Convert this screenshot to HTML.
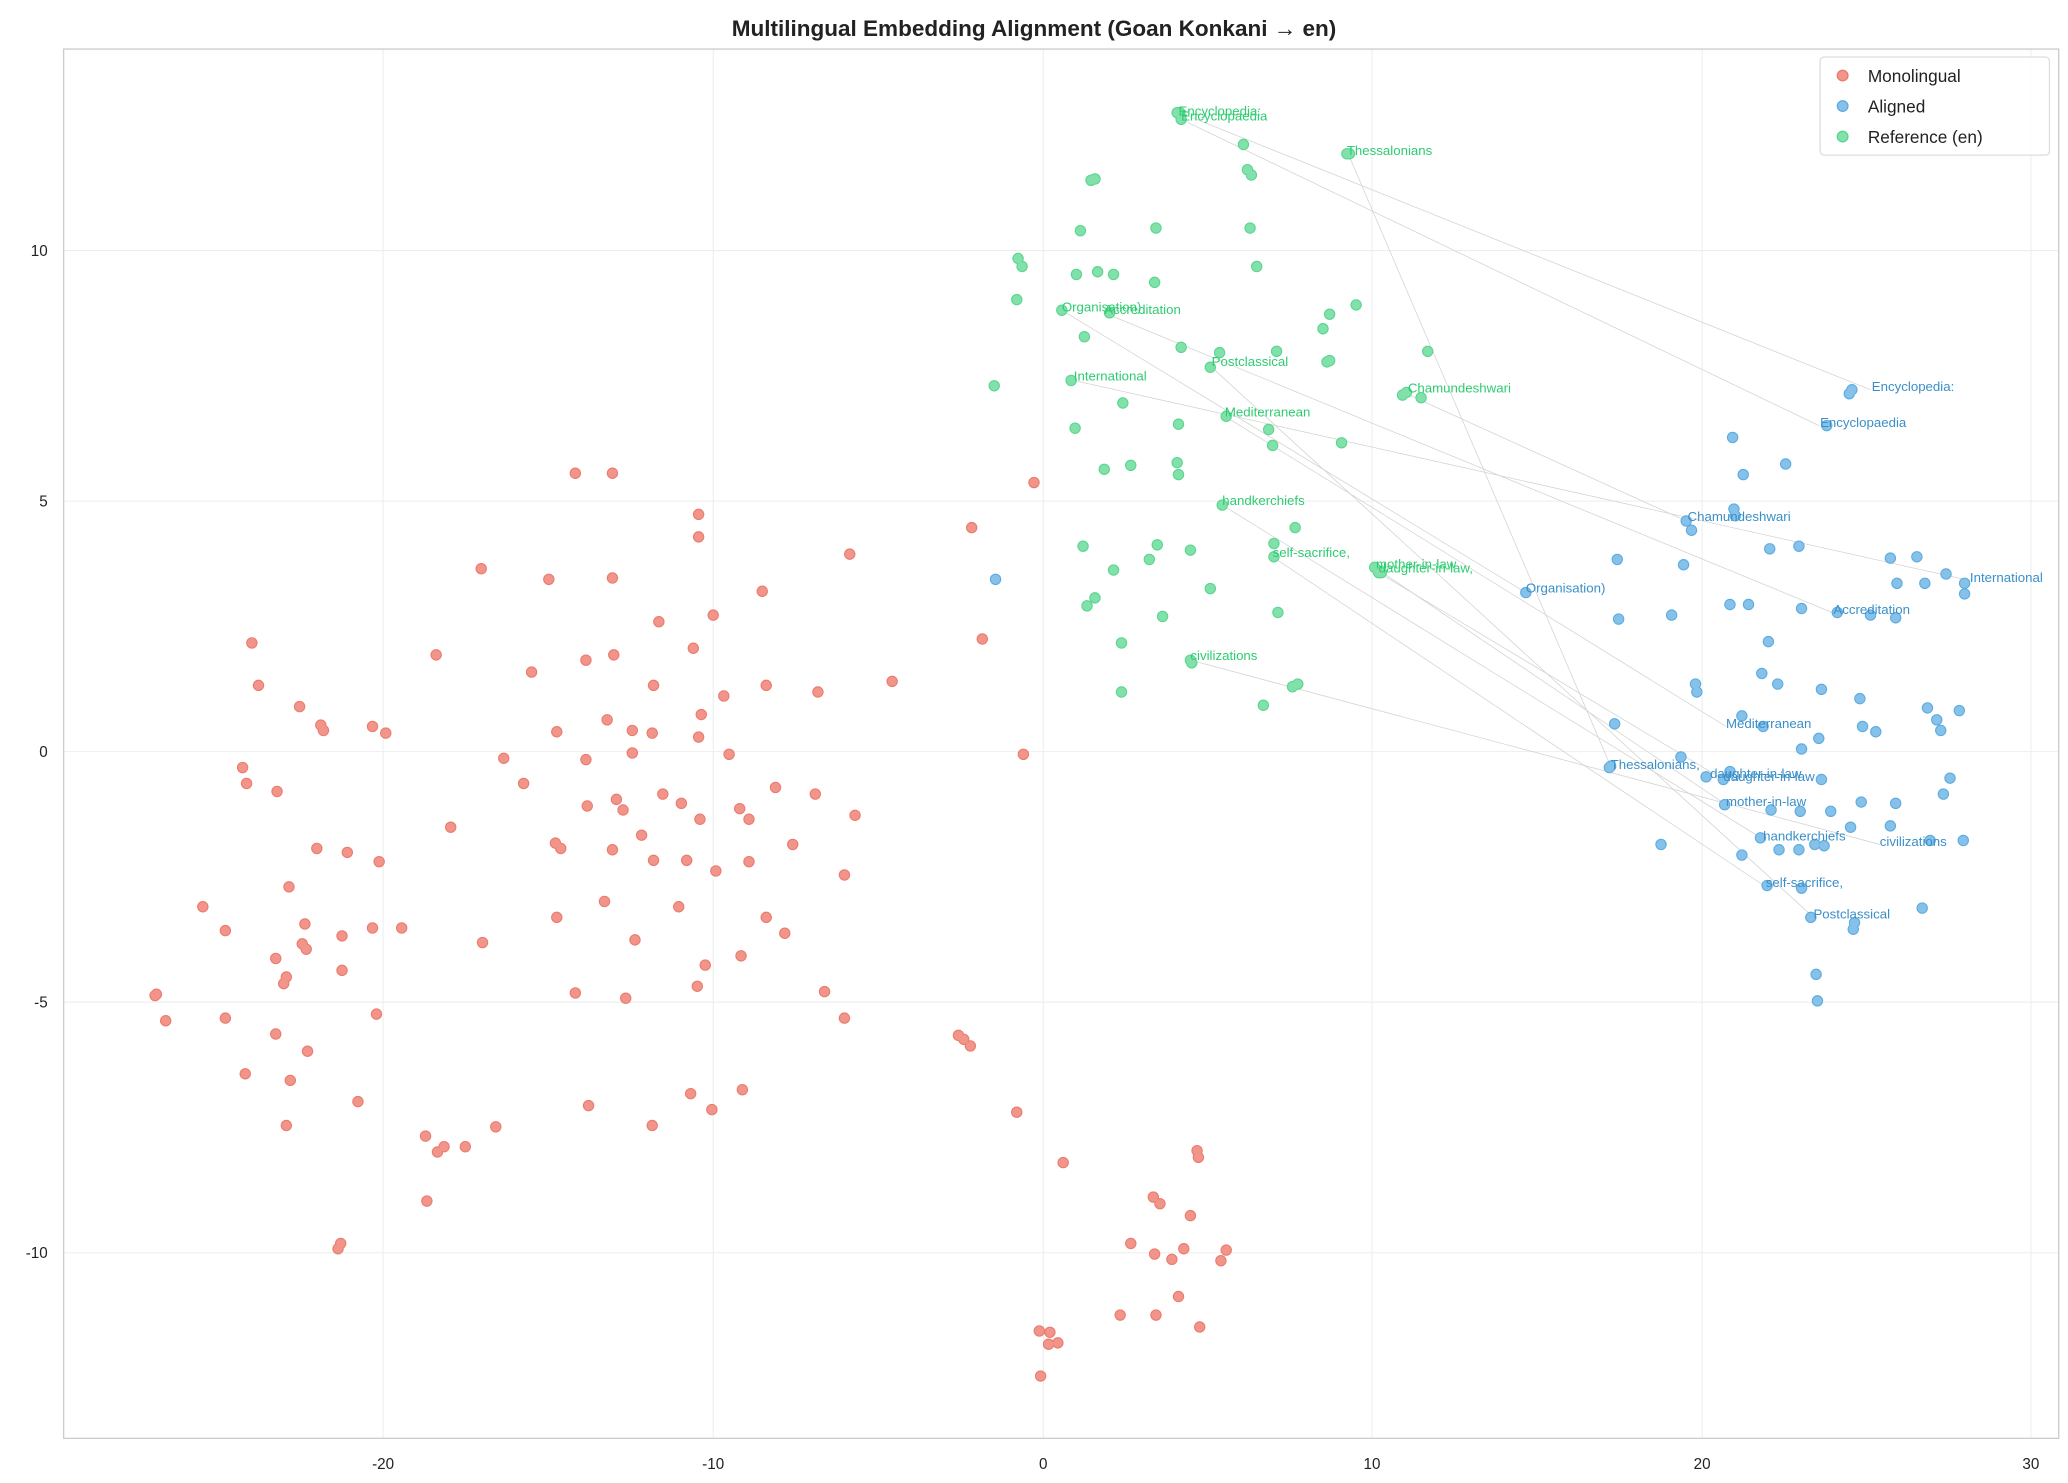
<!DOCTYPE html>
<html><head><meta charset="utf-8"><style>
html,body{margin:0;padding:0;background:#fff}
svg{display:block}
text{font-family:"Liberation Sans","DejaVu Sans",sans-serif}
</style></head><body>
<svg width="2068" height="1483" viewBox="0 0 1560 1118.7" xmlns="http://www.w3.org/2000/svg">
<rect x="0" y="0" width="1560" height="1118.7" fill="#fff"/>
<g stroke="#eeeeee" stroke-width="0.8">
<line x1="289" y1="37" x2="289" y2="1085"/><line x1="538" y1="37" x2="538" y2="1085"/><line x1="787" y1="37" x2="787" y2="1085"/><line x1="1035" y1="37" x2="1035" y2="1085"/><line x1="1284" y1="37" x2="1284" y2="1085"/><line x1="1532" y1="37" x2="1532" y2="1085"/>
<line x1="48" y1="189" x2="1553" y2="189"/><line x1="48" y1="378" x2="1553" y2="378"/><line x1="48" y1="567" x2="1553" y2="567"/><line x1="48" y1="756" x2="1553" y2="756"/><line x1="48" y1="945" x2="1553" y2="945"/>
</g>
<rect x="48" y="37" width="1505" height="1048" fill="none" stroke="#cccccc" stroke-width="1"/>
<text x="780" y="27" text-anchor="middle" font-size="17" font-weight="bold" fill="#222">Multilingual Embedding Alignment (Goan Konkani → en)</text>
<g font-size="11.5" fill="#222" text-anchor="middle">
<text x="289" y="1108">-20</text><text x="538" y="1108">-10</text><text x="787" y="1108">0</text><text x="1035" y="1108">10</text><text x="1284" y="1108">20</text><text x="1532" y="1108">30</text>
</g>
<g font-size="11.5" fill="#222" text-anchor="end">
<text x="36" y="193">10</text><text x="36" y="382">5</text><text x="36" y="571">0</text><text x="36" y="760">-5</text><text x="36" y="949">-10</text>
</g>
<g stroke="#d4d4d4" stroke-width="0.6">
<line x1="890" y1="85" x2="1411" y2="294"/><line x1="891" y1="90" x2="1372" y2="321"/><line x1="1017" y1="116" x2="1215" y2="578"/><line x1="801" y1="234" x2="1151" y2="447"/><line x1="833" y1="236" x2="1382" y2="462"/><line x1="914" y1="277" x2="1368" y2="692"/><line x1="810" y1="287" x2="1486" y2="438"/><line x1="1061" y1="297" x2="1272" y2="393"/><line x1="924" y1="314" x2="1302" y2="548"/><line x1="922" y1="381" x2="1330" y2="633"/><line x1="960" y1="420" x2="1332" y2="669"/><line x1="1040" y1="430" x2="1302" y2="607"/><line x1="1040" y1="432" x2="1300" y2="588"/><line x1="898" y1="498" x2="1418" y2="637"/>
</g>
<g fill="none" stroke-linecap="round">
<path stroke="#ec7a6d" stroke-width="8.6" d="M118 750h0M117 751h0M125 770h0M153 684h0M170 702h0M170 768h0M185 810h0M190 485h0M195 517h0M183 579h0M186 591h0M209 597h0M208 723h0M208 780h0M214 742h0M216 737h0M218 669h0M219 815h0M216 849h0M226 533h0M228 712h0M230 697h0M231 716h0M232 793h0M239 640h0M242 547h0M244 551h0M255 942h0M257 938h0M258 706h0M258 732h0M262 643h0M270 831h0M281 548h0M286 650h0M281 700h0M284 765h0M291 553h0M303 700h0M321 857h0M322 906h0M329 494h0M330 869h0M335 865h0M340 624h0M351 865h0M363 429h0M364 711h0M374 850h0M380 572h0M395 591h0M401 507h0M414 437h0M419 636h0M420 552h0M420 692h0M423 640h0M434 357h0M434 749h0M442 573h0M442 498h0M444 834h0M443 608h0M456 680h0M458 543h0M462 357h0M462 436h0M462 641h0M463 494h0M465 603h0M470 611h0M472 753h0M477 568h0M477 551h0M479 709h0M484 630h0M492 849h0M493 649h0M493 517h0M492 553h0M497 469h0M500 599h0M512 684h0M514 606h0M518 649h0M521 825h0M523 489h0M526 744h0M527 388h0M527 405h0M527 556h0M528 618h0M529 539h0M532 728h0M537 837h0M538 464h0M540 657h0M546 525h0M550 569h0M558 610h0M559 721h0M560 822h0M565 618h0M565 650h0M575 446h0M578 517h0M578 692h0M585 594h0M592 704h0M598 637h0M615 599h0M617 522h0M622 748h0M637 660h0M637 768h0M641 418h0M645 615h0M673 514h0M723 781h0M727 784h0M732 789h0M733 398h0M741 482h0M767 839h0M772 569h0M780 364h0M784 1004h0M785 1038h0M791 1014h0M792 1005h0M798 1013h0M802 877h0M845 992h0M853 938h0M870 903h0M871 946h0M875 908h0M872 992h0M884 950h0M889 978h0M893 942h0M898 917h0M903 868h0M904 873h0M905 1001h0M921 951h0M925 943h0"/>
<path stroke="#f1948a" stroke-width="7" d="M118 750h0M117 751h0M125 770h0M153 684h0M170 702h0M170 768h0M185 810h0M190 485h0M195 517h0M183 579h0M186 591h0M209 597h0M208 723h0M208 780h0M214 742h0M216 737h0M218 669h0M219 815h0M216 849h0M226 533h0M228 712h0M230 697h0M231 716h0M232 793h0M239 640h0M242 547h0M244 551h0M255 942h0M257 938h0M258 706h0M258 732h0M262 643h0M270 831h0M281 548h0M286 650h0M281 700h0M284 765h0M291 553h0M303 700h0M321 857h0M322 906h0M329 494h0M330 869h0M335 865h0M340 624h0M351 865h0M363 429h0M364 711h0M374 850h0M380 572h0M395 591h0M401 507h0M414 437h0M419 636h0M420 552h0M420 692h0M423 640h0M434 357h0M434 749h0M442 573h0M442 498h0M444 834h0M443 608h0M456 680h0M458 543h0M462 357h0M462 436h0M462 641h0M463 494h0M465 603h0M470 611h0M472 753h0M477 568h0M477 551h0M479 709h0M484 630h0M492 849h0M493 649h0M493 517h0M492 553h0M497 469h0M500 599h0M512 684h0M514 606h0M518 649h0M521 825h0M523 489h0M526 744h0M527 388h0M527 405h0M527 556h0M528 618h0M529 539h0M532 728h0M537 837h0M538 464h0M540 657h0M546 525h0M550 569h0M558 610h0M559 721h0M560 822h0M565 618h0M565 650h0M575 446h0M578 517h0M578 692h0M585 594h0M592 704h0M598 637h0M615 599h0M617 522h0M622 748h0M637 660h0M637 768h0M641 418h0M645 615h0M673 514h0M723 781h0M727 784h0M732 789h0M733 398h0M741 482h0M767 839h0M772 569h0M780 364h0M784 1004h0M785 1038h0M791 1014h0M792 1005h0M798 1013h0M802 877h0M845 992h0M853 938h0M870 903h0M871 946h0M875 908h0M872 992h0M884 950h0M889 978h0M893 942h0M898 917h0M903 868h0M904 873h0M905 1001h0M921 951h0M925 943h0"/>
<path stroke="#5cabe0" stroke-width="8.6" d="M751 437h0M1151 447h0M1215 578h0M1214 579h0M1218 546h0M1220 422h0M1221 467h0M1253 637h0M1261 464h0M1268 571h0M1270 426h0M1272 393h0M1276 400h0M1279 516h0M1280 522h0M1287 586h0M1300 588h0M1301 607h0M1305 582h0M1305 456h0M1307 330h0M1308 384h0M1309 389h0M1314 540h0M1314 645h0M1315 358h0M1319 456h0M1328 632h0M1329 508h0M1330 548h0M1333 668h0M1334 484h0M1335 414h0M1336 611h0M1341 516h0M1342 641h0M1347 350h0M1357 412h0M1357 641h0M1358 612h0M1359 459h0M1359 565h0M1359 670h0M1366 692h0M1369 637h0M1370 735h0M1371 755h0M1372 557h0M1374 520h0M1374 588h0M1376 638h0M1378 321h0M1381 612h0M1386 462h0M1395 297h0M1396 624h0M1397 294h0M1398 701h0M1399 696h0M1403 527h0M1404 605h0M1405 548h0M1411 464h0M1415 552h0M1426 623h0M1426 421h0M1430 466h0M1430 606h0M1431 440h0M1446 420h0M1450 685h0M1452 440h0M1454 534h0M1456 634h0M1461 543h0M1464 551h0M1468 433h0M1471 587h0M1466 599h0M1478 536h0M1482 448h0M1482 440h0M1481 634h0"/>
<path stroke="#85c1e9" stroke-width="7" d="M751 437h0M1151 447h0M1215 578h0M1214 579h0M1218 546h0M1220 422h0M1221 467h0M1253 637h0M1261 464h0M1268 571h0M1270 426h0M1272 393h0M1276 400h0M1279 516h0M1280 522h0M1287 586h0M1300 588h0M1301 607h0M1305 582h0M1305 456h0M1307 330h0M1308 384h0M1309 389h0M1314 540h0M1314 645h0M1315 358h0M1319 456h0M1328 632h0M1329 508h0M1330 548h0M1333 668h0M1334 484h0M1335 414h0M1336 611h0M1341 516h0M1342 641h0M1347 350h0M1357 412h0M1357 641h0M1358 612h0M1359 459h0M1359 565h0M1359 670h0M1366 692h0M1369 637h0M1370 735h0M1371 755h0M1372 557h0M1374 520h0M1374 588h0M1376 638h0M1378 321h0M1381 612h0M1386 462h0M1395 297h0M1396 624h0M1397 294h0M1398 701h0M1399 696h0M1403 527h0M1404 605h0M1405 548h0M1411 464h0M1415 552h0M1426 623h0M1426 421h0M1430 466h0M1430 606h0M1431 440h0M1446 420h0M1450 685h0M1452 440h0M1454 534h0M1456 634h0M1461 543h0M1464 551h0M1468 433h0M1471 587h0M1466 599h0M1478 536h0M1482 448h0M1482 440h0M1481 634h0"/>
<path stroke="#58d68d" stroke-width="8.6" d="M750 291h0M767 226h0M768 195h0M771 201h0M801 234h0M808 287h0M811 323h0M815 174h0M812 207h0M817 412h0M818 254h0M820 457h0M826 135h0M823 136h0M826 451h0M828 205h0M833 354h0M837 236h0M840 207h0M840 430h0M846 485h0M846 522h0M847 304h0M853 351h0M867 422h0M871 213h0M872 172h0M873 411h0M877 465h0M888 349h0M889 358h0M889 320h0M890 85h0M891 262h0M891 90h0M898 498h0M899 500h0M898 415h0M913 277h0M913 444h0M920 266h0M922 381h0M925 314h0M938 109h0M941 128h0M944 132h0M943 172h0M948 201h0M953 532h0M957 324h0M960 336h0M961 410h0M961 420h0M964 462h0M963 265h0M975 518h0M979 516h0M977 398h0M998 248h0M1001 273h0M1003 237h0M1003 272h0M1012 334h0M1016 116h0M1018 116h0M1023 230h0M1037 428h0M1040 432h0M1042 432h0M1058 298h0M1061 296h0M1072 300h0M1077 265h0M888 85h0"/>
<path stroke="#82e0aa" stroke-width="7" d="M750 291h0M767 226h0M768 195h0M771 201h0M801 234h0M808 287h0M811 323h0M815 174h0M812 207h0M817 412h0M818 254h0M820 457h0M826 135h0M823 136h0M826 451h0M828 205h0M833 354h0M837 236h0M840 207h0M840 430h0M846 485h0M846 522h0M847 304h0M853 351h0M867 422h0M871 213h0M872 172h0M873 411h0M877 465h0M888 349h0M889 358h0M889 320h0M890 85h0M891 262h0M891 90h0M898 498h0M899 500h0M898 415h0M913 277h0M913 444h0M920 266h0M922 381h0M925 314h0M938 109h0M941 128h0M944 132h0M943 172h0M948 201h0M953 532h0M957 324h0M960 336h0M961 410h0M961 420h0M964 462h0M963 265h0M975 518h0M979 516h0M977 398h0M998 248h0M1001 273h0M1003 237h0M1003 272h0M1012 334h0M1016 116h0M1018 116h0M1023 230h0M1037 428h0M1040 432h0M1042 432h0M1058 298h0M1061 296h0M1072 300h0M1077 265h0M888 85h0"/>
</g>
<g font-size="10" fill="#2ecc71">
<text x="889" y="87">Encyclopedia:</text><text x="891" y="91">Encyclopaedia</text><text x="1016" y="117">Thessalonians</text><text x="801" y="235">Organisation)</text><text x="833" y="237">Accreditation</text><text x="914" y="276">Postclassical</text><text x="810" y="287">International</text><text x="1062" y="296">Chamundeshwari</text><text x="924" y="314">Mediterranean</text><text x="922" y="381">handkerchiefs</text><text x="960" y="420">self-sacrifice,</text><text x="1038" y="429">mother-in-law</text><text x="1040" y="432">daughter-in-law,</text><text x="898" y="498">civilizations</text>
</g>
<g font-size="10" fill="#3a8fc8">
<text x="1412" y="295">Encyclopedia:</text><text x="1373" y="322">Encyclopaedia</text><text x="1273" y="393">Chamundeshwari</text><text x="1151" y="447">Organisation)</text><text x="1486" y="439">International</text><text x="1383" y="463">Accreditation</text><text x="1302" y="549">Mediterranean</text><text x="1215" y="580">Thessalonians,</text><text x="1290" y="587">daughter-in-law</text><text x="1300" y="589">daughter-in-law</text><text x="1302" y="608">mother-in-law</text><text x="1330" y="634">handkerchiefs</text><text x="1418" y="638">civilizations</text><text x="1332" y="669">self-sacrifice,</text><text x="1368" y="693">Postclassical</text>
</g>
<rect x="1373" y="43" width="173" height="74" rx="3" fill="#fff" fill-opacity="0.85" stroke="#ddd"/>
<circle cx="1390" cy="57" r="4" fill="#f1948a" stroke="#ec7a6d"/>
<circle cx="1390" cy="80" r="4" fill="#85c1e9" stroke="#5cabe0"/>
<circle cx="1390" cy="103" r="4" fill="#82e0aa" stroke="#58d68d"/>
<g font-size="13" fill="#222"><text x="1409" y="62">Monolingual</text><text x="1409" y="85">Aligned</text><text x="1409" y="108">Reference (en)</text></g>
</svg>
</body></html>
